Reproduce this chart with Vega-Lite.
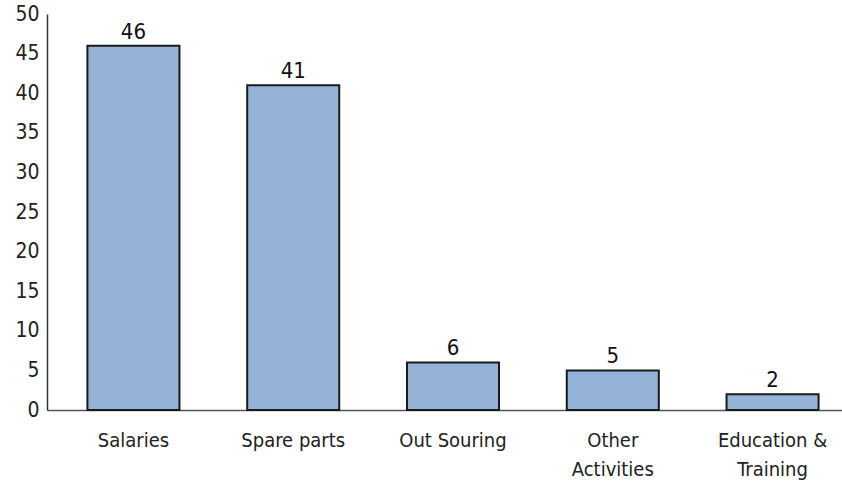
{
  "$schema": "https://vega.github.io/schema/vega-lite/v6.json",
  "width": 812,
  "height": 396,
  "autosize": "none",
  "padding": {"left": 47, "top": 14, "right": 0, "bottom": 85},
  "background": "white",
  "config": {
    "view": {"stroke": null},
    "font": "DejaVu Sans Condensed"
  },
  "data": {
    "values": [
      {"category": "Salaries", "value": 46},
      {"category": "Spare parts", "value": 41},
      {"category": "Out Souring", "value": 6},
      {"category": "Other Activities", "value": 5},
      {"category": "Education & Training", "value": 2}
    ]
  },
  "encoding": {
    "x": {
      "field": "category",
      "type": "nominal",
      "sort": null,
      "scale": {"paddingInner": 0.424, "paddingOuter": 0.253},
      "axis": {
        "title": null,
        "labelAngle": 0,
        "ticks": false,
        "domainColor": "#555555",
        "domainWidth": 1.5,
        "labelFontSize": 20,
        "labelColor": "#222222",
        "labelPadding": 20,
        "labelLineHeight": 29,
        "labelExpr": "datum.value == 'Other Activities' ? ['Other', 'Activities'] : datum.value == 'Education & Training' ? ['Education &', 'Training'] : datum.value"
      }
    },
    "y": {
      "field": "value",
      "type": "quantitative",
      "scale": {"domain": [0, 50], "nice": false},
      "axis": {
        "title": null,
        "values": [0, 5, 10, 15, 20, 25, 30, 35, 40, 45, 50],
        "grid": false,
        "ticks": false,
        "domainColor": "#333333",
        "domainWidth": 1.5,
        "labelFontSize": 21,
        "labelColor": "#222222",
        "labelPadding": 8
      }
    }
  },
  "layer": [
    {
      "mark": {"type": "bar", "color": "#95b3d7", "stroke": "#1a1a1a", "strokeWidth": 2}
    },
    {
      "mark": {"type": "text", "dy": -14, "fontSize": 22, "color": "#111111"},
      "encoding": {"text": {"field": "value", "type": "quantitative"}}
    }
  ]
}
